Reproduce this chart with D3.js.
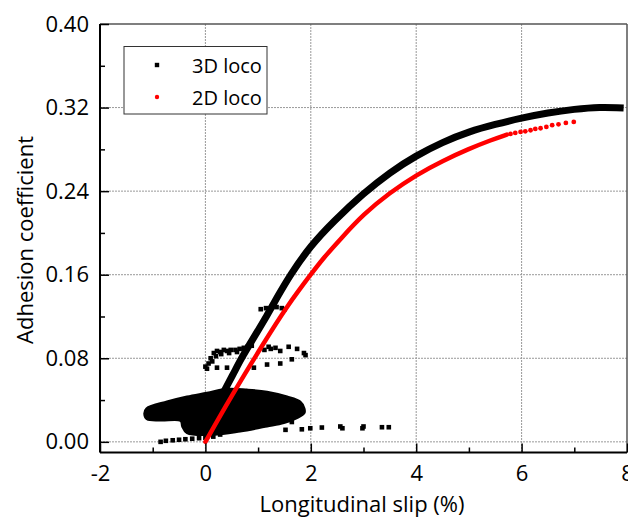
<!DOCTYPE html>
<html>
<head>
<meta charset="utf-8">
<script src="https://cdn.jsdelivr.net/npm/d3@7"></script>
<style>
  body { margin: 0; background: #fff; }
  text { font-family: 'Open Sans', sans-serif; fill: #000; }
</style>
</head>
<body>
<div id="chart"></div>
<script>
// Data
const xTicks = [-2, 0, 2, 4, 6, 8]
const xMinorTicks = [-1, 1, 3, 5, 7]
const yTicks = [0, 0.08, 0.16, 0.24, 0.32, 0.40]
const yMinorTicks = [0.04, 0.12, 0.20, 0.28, 0.36]

// 3D loco: main rising branch (slip %, adhesion)
const loco3DCurve = [
  [0.30, 0.043], [0.38, 0.051], [0.54, 0.066], [0.68, 0.080], [0.92, 0.100],
  [1.16, 0.120], [1.38, 0.140], [1.61, 0.160], [2.00, 0.188], [2.43, 0.211],
  [3.00, 0.238], [3.50, 0.258], [4.00, 0.274], [4.50, 0.287], [5.00, 0.297],
  [5.50, 0.304], [6.00, 0.310], [6.50, 0.315], [7.00, 0.3185], [7.50, 0.3206],
  [7.87, 0.3197]
]
// 3D loco: dense cloud of transient points near the origin (outline)
const loco3DCloud = [
  [-1.16, 0.027], [-1.12, 0.032], [-0.73, 0.0386], [-0.35, 0.0434], [0.03, 0.047],
  [0.41, 0.0508], [0.79, 0.050], [1.17, 0.048], [1.55, 0.0434], [1.80, 0.0386],
  [1.88, 0.032], [1.88, 0.0275], [1.74, 0.0227], [1.49, 0.018], [1.17, 0.0147],
  [0.66, 0.0099], [0.16, 0.0067], [-0.35, 0.0083], [-0.44, 0.0147], [-0.47, 0.020],
  [-0.85, 0.0204], [-1.11, 0.0217]
]
// 3D loco: isolated points
const loco3DPoints = [
  // tail along zero
  [-0.85, 0.000], [-0.75, 0.001], [-0.62, 0.0015], [-0.50, 0.002], [-0.38, 0.0025],
  [-0.25, 0.003], [-0.12, 0.0035], [0.00, 0.004], [0.15, 0.005], [0.28, 0.007],
  // low points to the right
  [1.52, 0.0115], [1.64, 0.019], [1.83, 0.012], [1.99, 0.013], [2.21, 0.0137],
  [2.56, 0.0147], [2.60, 0.013], [3.00, 0.0147], [2.98, 0.013], [3.35, 0.014], [3.48, 0.014],
  // band around 0.08
  [0.10, 0.080], [0.16, 0.085], [0.22, 0.087], [0.28, 0.086], [0.35, 0.088],
  [0.41, 0.087], [0.48, 0.088], [0.57, 0.088], [0.65, 0.089], [0.73, 0.090],
  [0.80, 0.091], [0.88, 0.092], [0.20, 0.082], [0.30, 0.084], [0.45, 0.085], [0.60, 0.086],
  [1.12, 0.088], [1.20, 0.091], [1.24, 0.089], [1.33, 0.090], [1.42, 0.087],
  [1.58, 0.091], [1.74, 0.089], [1.87, 0.085], [1.90, 0.083], [1.64, 0.079],
  [1.42, 0.075], [1.17, 0.074], [0.92, 0.071],
  [0.00, 0.072], [0.06, 0.075], [0.13, 0.077], [0.22, 0.071], [0.41, 0.071], [0.03, 0.070],
  // short branch at 0.128
  [1.05, 0.127], [1.15, 0.128], [1.25, 0.129], [1.35, 0.129], [1.45, 0.128], [1.50, 0.127]
]

// 2D loco: dense part
const loco2DCurve = [
  [0.00, 0.000], [0.47, 0.042], [1.11, 0.095], [1.55, 0.130], [2.01, 0.161],
  [2.24, 0.176], [2.56, 0.194], [3.00, 0.218], [3.50, 0.2385], [4.00, 0.2555],
  [4.50, 0.269], [5.00, 0.2805], [5.41, 0.2887], [5.72, 0.2941]
]
// 2D loco: sparse points at the end
const loco2DPoints = [
  [5.79, 0.2948], [5.88, 0.2957], [5.98, 0.2967], [6.07, 0.2973], [6.17, 0.2983],
  [6.26, 0.2996], [6.36, 0.3002], [6.47, 0.3015], [6.58, 0.3031], [6.70, 0.3040],
  [6.84, 0.3053], [6.99, 0.3063]
]

const legendItems = [
  { label: '3D loco', color: '#000', shape: 'square' },
  { label: '2D loco', color: '#ff0000', shape: 'circle' }
]

// Dimensions
const dims = { width: 628, height: 520, left: 100, right: 627, top: 24, bottom: 452.5 }

const svg = d3.select('#chart')
  .append('svg')
  .attr('width', dims.width)
  .attr('height', dims.height)

// Scales
const xScale = d3.scaleLinear().domain([-2, 8]).range([dims.left, dims.right])
const yScale = d3.scaleLinear().domain([-0.0102, 0.40]).range([dims.bottom, dims.top])

// Grid
const grid = svg.append('g')
grid.selectAll('.vgrid')
  .data(xTicks.slice(1, -1))
  .join('line')
  .attr('x1', d => xScale(d)).attr('x2', d => xScale(d))
  .attr('y1', dims.top).attr('y2', dims.bottom)
  .attr('stroke', '#999')
  .attr('stroke-width', 1)
  .attr('stroke-dasharray', '2,1')
grid.selectAll('.hgrid')
  .data(yTicks.slice(0, -1))
  .join('line')
  .attr('x1', dims.left).attr('x2', dims.right)
  .attr('y1', d => yScale(d)).attr('y2', d => yScale(d))
  .attr('stroke', '#999')
  .attr('stroke-width', 1)
  .attr('stroke-dasharray', '2,1')

// Data marks
const plot = svg.append('g')
const line = d3.line().x(d => xScale(d[0])).y(d => yScale(d[1]))

plot.append('path')
  .datum(loco3DCloud)
  .attr('d', line.curve(d3.curveCatmullRomClosed))
  .attr('fill', '#000')
  .attr('stroke', '#000')
  .attr('stroke-width', 2)

plot.append('path')
  .datum(loco3DCurve)
  .attr('d', line.curve(d3.curveBasis))
  .attr('fill', 'none')
  .attr('stroke', '#000')
  .attr('stroke-width', 7)
  .attr('stroke-linecap', 'square')

plot.selectAll('.sq')
  .data(loco3DPoints)
  .join('rect')
  .attr('x', d => xScale(d[0]) - 2.3)
  .attr('y', d => yScale(d[1]) - 2.3)
  .attr('width', 4.6)
  .attr('height', 4.6)
  .attr('fill', '#000')

plot.append('path')
  .datum(loco2DCurve)
  .attr('d', line.curve(d3.curveBasis))
  .attr('fill', 'none')
  .attr('stroke', '#ff0000')
  .attr('stroke-width', 4.5)
  .attr('stroke-linecap', 'round')

plot.selectAll('.dot')
  .data(loco2DPoints)
  .join('circle')
  .attr('cx', d => xScale(d[0]))
  .attr('cy', d => yScale(d[1]))
  .attr('r', 2.4)
  .attr('fill', '#ff0000')

// Frame (top and right)
svg.append('line')
  .attr('x1', dims.left).attr('x2', dims.right).attr('y1', dims.top).attr('y2', dims.top)
  .attr('stroke', '#555').attr('stroke-width', 1.5)
svg.append('line')
  .attr('x1', dims.right).attr('x2', dims.right).attr('y1', dims.top).attr('y2', dims.bottom)
  .attr('stroke', '#555').attr('stroke-width', 1.5)

// Axes
const xAxis = d3.axisBottom(xScale)
  .tickValues(xTicks)
  .tickSize(-9)
  .tickPadding(13)
  .tickFormat(d => String(d))
const xAxisGroup = svg.append('g')
  .attr('transform', `translate(0,${dims.bottom})`)
  .call(xAxis)
svg.append('g')
  .attr('transform', `translate(0,${dims.bottom})`)
  .call(d3.axisBottom(xScale).tickValues(xMinorTicks).tickSize(-5).tickFormat(''))
  .select('.domain').remove()

const yAxis = d3.axisLeft(yScale)
  .tickValues(yTicks)
  .tickSize(-9)
  .tickPadding(11)
  .tickFormat(d3.format('.2f'))
const yAxisGroup = svg.append('g')
  .attr('transform', `translate(${dims.left},0)`)
  .call(yAxis)
svg.append('g')
  .attr('transform', `translate(${dims.left},0)`)
  .call(d3.axisLeft(yScale).tickValues(yMinorTicks).tickSize(-5).tickFormat(''))
  .select('.domain').remove()

svg.selectAll('.domain')
  .attr('stroke', '#000')
  .attr('stroke-width', 2)
svg.selectAll('.tick line')
  .attr('stroke', '#000')
  .attr('stroke-width', 1.5)
svg.selectAll('.tick text')
  .attr('font-family', "'Open Sans', sans-serif")
  .attr('font-size', 22)
  .attr('fill', '#000')

// axis lines without the outer end ticks
yAxisGroup.select('.domain').attr('d', `M0,${dims.bottom}V${dims.top}`)
xAxisGroup.select('.domain').attr('d', `M${dims.left},0H${dims.right}`)

// Axis titles
svg.append('text')
  .attr('x', 362)
  .attr('y', 512)
  .attr('text-anchor', 'middle')
  .attr('font-size', 22)
  .text('Longitudinal slip (%)')

svg.append('text')
  .attr('transform', 'translate(33,240) rotate(-90)')
  .attr('text-anchor', 'middle')
  .attr('font-size', 22)
  .text('Adhesion coefficient')

// Legend
const legend = svg.append('g')
legend.append('rect')
  .attr('x', 124).attr('y', 46.5)
  .attr('width', 143).attr('height', 67.5)
  .attr('fill', '#fff')
  .attr('stroke', '#333')
  .attr('stroke-width', 1)

const legendRow = legend.selectAll('.row')
  .data(legendItems)
  .join('g')
  .attr('transform', (d, i) => `translate(157,${65 + i * 32})`)

legendRow.filter(d => d.shape === 'square')
  .append('rect')
  .attr('x', -2.2).attr('y', -2.2)
  .attr('width', 4.4).attr('height', 4.4)
  .attr('fill', d => d.color)
legendRow.filter(d => d.shape === 'circle')
  .append('circle')
  .attr('r', 2.2)
  .attr('fill', d => d.color)
legendRow.append('text')
  .attr('x', 35)
  .attr('y', 7.5)
  .attr('font-size', 20)
  .text(d => d.label)
</script>
</body>
</html>
